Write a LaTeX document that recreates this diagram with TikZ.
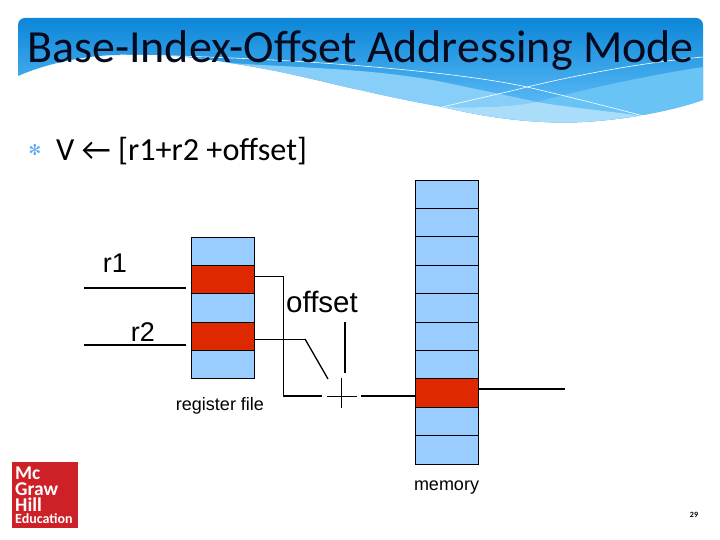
\documentclass[tikz,border=0pt]{standalone}
\usepackage{fontspec}
\setmainfont{Carlito}
\newfontfamily\labelfont{Liberation Sans}
\newfontfamily\symbfont{DejaVu Sans}
\usetikzlibrary{positioning, calc}
\definecolor{cellblue}{RGB}{153,204,255}
\definecolor{cellred}{RGB}{221,40,0}
\definecolor{bannertop}{RGB}{12,134,216}
\definecolor{bannerlow}{RGB}{84,182,243}
\definecolor{bandleft}{RGB}{135,206,248}
\definecolor{bandright}{RGB}{106,195,245}
\definecolor{bandmid}{RGB}{170,221,250}
\definecolor{logored}{RGB}{206,32,39}
\definecolor{titleink}{RGB}{6,10,30}
\tikzset{
  cell/.style={draw=black, line width=0.7pt, minimum width=63pt, minimum height=28.4pt, inner sep=0pt, outer sep=0pt, fill=cellblue},
  hot/.style={fill=cellred},
  wire/.style={line width=1.3pt},
  thin wire/.style={line width=0.7pt},
  big/.style={font=\labelfont\fontsize{27}{30}\selectfont, inner sep=0pt},
  small/.style={font=\labelfont\fontsize{18}{20}\selectfont, inner sep=0pt},
}
% lower edge of the banner
\newcommand{\bannerpath}{(18,76) [rounded corners=7pt] -- (18,18) -- (703,18) [sharp corners] -- (703,100)
  .. controls (660,115) and (600,123) .. (560,122.5)
  .. controls (520,122) and (480,116) .. (443,107)
  .. controls (420,103) and (390,97) .. (360,90)
  .. controls (330,84) and (290,72) .. (230,63)
  .. controls (200,58) and (170,54) .. (120,55)
  .. controls (90,55) and (50,62) .. (18,76) -- cycle}
\newcommand{\bandleftpath}{(230,63) .. controls (300,68) and (370,68) .. (443,82)
  .. controls (480,90) and (510,96) .. (537,102) .. controls (570,108) and (620,112) .. (647,117)
  -- (647,140) -- (230,140) -- cycle}
\newcommand{\bandrightpath}{(443,107) .. controls (480,108) and (510,107) .. (537,102)
  .. controls (590,88) and (650,75) .. (703,67) -- (703,140) -- (443,140) -- cycle}
\begin{document}
\begin{tikzpicture}[x=1pt,y=-1pt]
\useasboundingbox (0,0) rectangle (720,540);
\fill[white] (0,0) rectangle (720,540);
% banner
\begin{scope}
  \clip \bannerpath;
  \shade[top color=bannertop, bottom color=bannerlow] (18,18) rectangle (703,100);
  \fill[bannerlow] (18,100) rectangle (703,130);
  \fill[bandleft] \bandleftpath;
  \fill[bandright] \bandrightpath;
  \begin{scope}
    \clip \bandleftpath;
    \fill[bandmid] \bandrightpath;
  \end{scope}
\end{scope}
\coordinate (lineaa) at (120,55);
\coordinate (lineab) at (647,117);
\coordinate (lineba) at (443,107);
\coordinate (linebb) at (703,57);
\draw[white, line width=0.6pt] (lineaa) .. controls (250,56) and (440,68) .. (527,87) .. controls (570,97) and (610,107) .. (lineab);
\draw[white, line width=0.6pt] (lineba) .. controls (470,100) and (500,94) .. (527,87) .. controls (590,72) and (650,62) .. (linebb);
\node[inner sep=0pt, anchor=base west, font=\fontsize{46}{50}\selectfont, text=titleink] (title) at (27,63) {Base-Index-Offset Addressing Mode};
% bullet line
\node[inner sep=0pt, font=\symbfont\fontsize{15}{16}\selectfont, text=bandright!85!blue] (star) at (35,150) {✻};
\node[inner sep=0pt, anchor=base west, font=\fontsize{32.2}{36}\selectfont] (formula) at (56,161) {V ← [r1+r2 +offset]};
% register file
\foreach \i/\c in {0/,1/hot,2/,3/hot,4/} {
  \node[cell,\c] (reg\i) at (223,{251.3+28.3*\i}) {};
}
% memory
\foreach \i/\c in {0/,1/,2/,3/,4/,5/,6/,7/hot,8/,9/} {
  \node[cell,\c] (mem\i) at (446.5,{194.2+28.4*\i}) {};
}
\node[big] (lr1) at (115,263) {r1};
\node[big] (lr2) at (143,332) {r2};
\node[big, font=\labelfont\fontsize{29.5}{32}\selectfont] (loff) at (322,302) {offset};
\node[small] (lreg) at (220,406) {register file};
\node[small] (lmem) at (446.5,488) {memory};
\node[inner sep=0pt, font=\bfseries\fontsize{8}{9}\selectfont] (page) at (694,515) {29};
% wires
\coordinate (r1a) at (84,288);
\coordinate (r1b) at (186,288);
\coordinate (r2a) at (84,345);
\coordinate (r2b) at (186,345);
\coordinate (bend1) at (283,276);
\coordinate (bend2) at (283,396);
\coordinate (bend3) at (305,339);
\coordinate (addl) at (322,396);
\coordinate (addr) at (361,396);
\coordinate (in2) at (328,379);
\coordinate (offa) at (345,322);
\coordinate (offb) at (345,373);
\coordinate (plusl) at (327,396);
\coordinate (plusr) at (357,396);
\coordinate (plust) at (341.5,378);
\coordinate (plusb) at (341.5,408);
\coordinate (outr) at (565,389);
\draw[wire] (r1a) -- (r1b);
\draw[wire] (r2a) -- (r2b);
\draw[thin wire] (reg1.east |- bend1) -- (bend1) -- (bend2);
\draw[wire] (bend2) -- (addl);
\draw[thin wire] (reg3.east |- bend3) -- (bend3);
\draw[wire] (bend3) -- (in2);
\draw[wire] (offa) -- (offb);
\draw[thin wire] (plusl) -- (plusr);
\draw[thin wire] (plust) -- (plusb);
\draw[wire] (addr) -- (mem7.west |- addr);
\draw[wire] (mem7.east |- outr) -- (outr);
% logo
\node[fill=logored, minimum size=66pt, inner sep=0pt] (logo) at (45,495) {};
\node[inner sep=0pt, anchor=north west, align=left, text=white, font=\bfseries\fontsize{19.5}{16}\selectfont] (logotxt) at (15,467) {Mc\\Graw\\Hill\\[-4pt]{\fontsize{14}{12}\selectfont Education}};
\end{tikzpicture}
\end{document}
